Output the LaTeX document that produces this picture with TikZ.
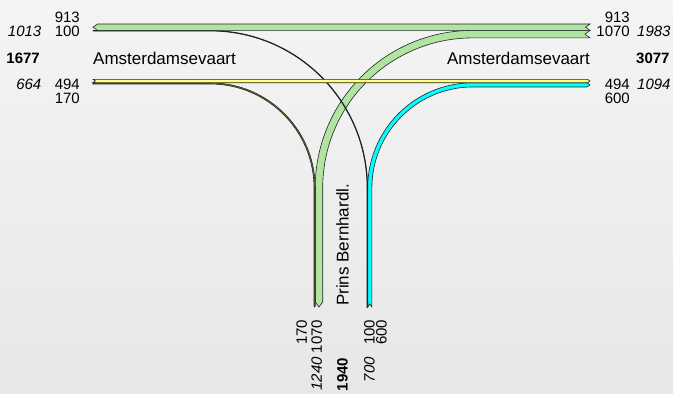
\documentclass[tikz,border=0pt]{standalone}
\usepackage{fontspec}
\setmainfont{Liberation Sans}
\definecolor{bgtop}{HTML}{F4F4F4}
\definecolor{bgbot}{HTML}{E7E7E7}
\definecolor{edgecol}{HTML}{1E2424}
\definecolor{bandgreen}{HTML}{B0E4A0}
\definecolor{bandyellow}{HTML}{FFFF80}
\definecolor{bandcyan}{HTML}{00FFFF}
\definecolor{bandteal}{HTML}{007070}
\definecolor{bandolive}{HTML}{8C8C30}
\begin{document}
\begin{tikzpicture}[x=1pt,y=-1pt,
  flow/.style={draw=edgecol, line width=0.6pt, line join=miter, miter limit=6},
  num/.style={font=\fontsize{15}{18}\selectfont, inner sep=0pt},
  tot/.style={num, font=\fontsize{15}{18}\selectfont\itshape},
  sum/.style={num, font=\fontsize{15}{18}\selectfont\bfseries},
  street/.style={font=\fontsize{17}{20}\selectfont, inner sep=0pt}]
% canvas
\fill[top color=bgtop, bottom color=bgbot] (0,0) rectangle (673,394);
\useasboundingbox (0,0) rectangle (673,394);

% 1070: from the east, left turn to the south
\path[flow, fill=bandgreen] (590,30.4) -- (472.8,30.4)
  arc[start angle=-90, end angle=-180, radius=157.6] -- (315.2,302)
  -- (318.95,307) -- (322.7,302) -- (322.7,188)
  arc[start angle=180, end angle=270, radius=150.1] -- (590,37.9)
  -- (585,34.15) -- cycle;
% 600: from the south, right turn to the east
\path[flow, fill=bandcyan] (367.7,307) -- (367.7,188)
  arc[start angle=180, end angle=270, radius=105.24] -- (587,82.76)
  -- (590,84.86) -- (587,86.96) -- (472.94,86.96)
  arc[start angle=270, end angle=180, radius=101.04] -- (371.9,307)
  -- (369.8,304) -- cycle;
% 170: from the west, right turn to the south
\path[flow, fill=bandolive] (93,82.76) -- (210,82.76)
  arc[start angle=-90, end angle=0, radius=105.24] -- (315.24,306)
  -- (314.6,307) -- (314,306) -- (314,188)
  arc[start angle=0, end angle=-90, radius=104] -- (93,83.96)
  -- (94,83.36) -- cycle;
% 100: from the south, left turn to the west
\path[flow, fill=bandteal] (93,30.75) -- (93.6,30.4) -- (210,30.4)
  arc[start angle=-90, end angle=0, radius=157.65] -- (367.7,307)
  -- (367.35,306.4) -- (367,307) -- (367,188)
  arc[start angle=0, end angle=-90, radius=156.95] -- (93.6,31.1) -- cycle;
% 913: straight through, westbound
\path[flow, fill=bandgreen] (97.5,24) -- (590,24) -- (585.5,27.2)
  -- (590,30.4) -- (97.5,30.4) -- (93,27.2) -- cycle;
% 494: straight through, eastbound
\path[flow, fill=bandyellow] (93,79.3) -- (587.5,79.3) -- (590,81.03)
  -- (587.5,82.76) -- (93,82.76) -- (95.5,81.03) -- cycle;

% west arm
\node[num, anchor=east] (w1) at (80,17.7) {913};
\node[num, anchor=east] (w2) at (80,31.7) {100};
\node[tot, anchor=east] (wout) at (41.5,31.7) {1013};
\node[sum, anchor=east] (wsum) at (40,58.3) {1677};
\node[street, anchor=west] (wname) at (93,58.3) {Amsterdamsevaart};
\node[num, anchor=east] (w3) at (80,84) {494};
\node[tot, anchor=east] (win) at (41.5,84) {664};
\node[num, anchor=east] (w4) at (80,98.7) {170};

% east arm
\node[num, anchor=east] (e1) at (630,17.7) {913};
\node[num, anchor=east] (e2) at (630,31.7) {1070};
\node[tot, anchor=west] (ein) at (637,31.7) {1983};
\node[street, anchor=east] (ename) at (590,58.3) {Amsterdamsevaart};
\node[sum, anchor=west] (esum) at (636,58.3) {3077};
\node[num, anchor=east] (e3) at (630,84) {494};
\node[tot, anchor=west] (eout) at (637,84) {1094};
\node[num, anchor=east] (e4) at (630,98.7) {600};

% south arm
\node[street, anchor=west, rotate=90] (sname) at (342.5,306) {Prins Bernhardl.};
\node[num, anchor=east, rotate=90] (s1) at (301.7,319.5) {170};
\node[num, anchor=east, rotate=90] (s2) at (316.7,319.5) {1070};
\node[tot, anchor=east, rotate=90] (sout) at (316.7,357) {1240};
\node[sum, anchor=east, rotate=90] (ssum) at (342.5,357.5) {1940};
\node[num, anchor=east, rotate=90] (s3) at (369.5,319.5) {100};
\node[tot, anchor=east, rotate=90] (sin) at (369.5,357) {700};
\node[num, anchor=east, rotate=90] (s4) at (381.5,319.5) {600};
\end{tikzpicture}
\end{document}
